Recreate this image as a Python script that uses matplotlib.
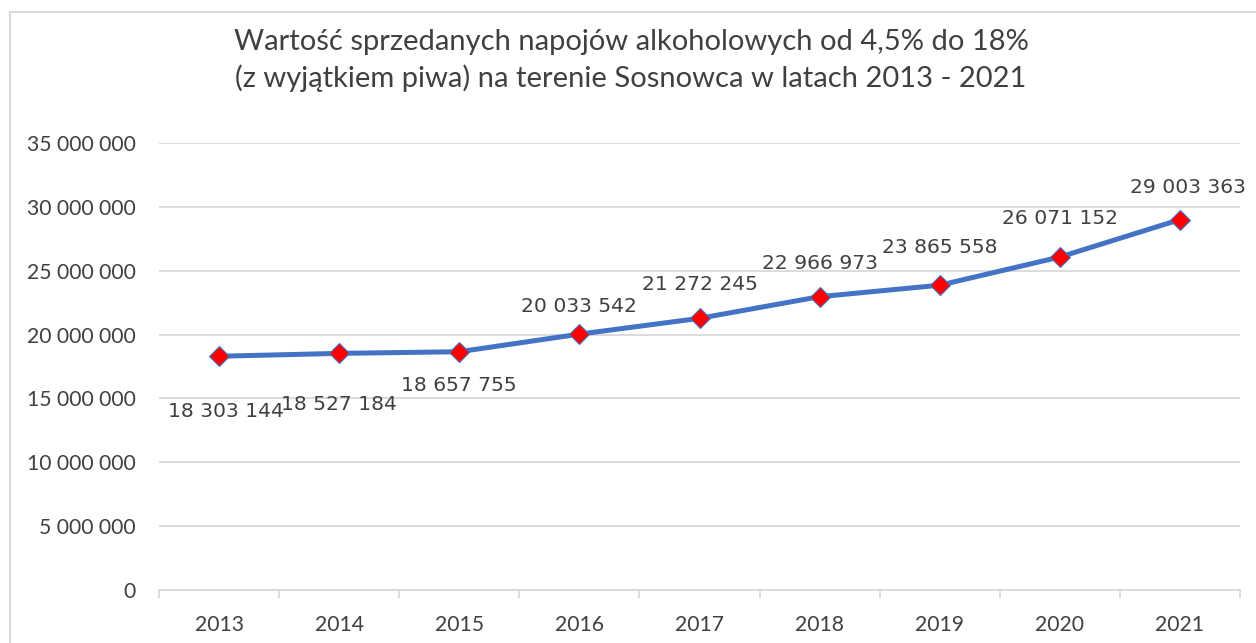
import matplotlib
matplotlib.use("Agg")
import matplotlib.pyplot as plt
from matplotlib.ticker import FuncFormatter
from matplotlib.patches import Rectangle

plt.rcParams['font.family'] = ['Lato', 'DejaVu Sans']

lata = ['2013', '2014', '2015', '2016', '2017', '2018', '2019', '2020', '2021']
wartosci = [18303144, 18527184, 18657755, 20033542, 21272245,
            22966973, 23865558, 26071152, 29003363]
# przesuniecia etykiet (w punktach), jak w Excelu
przes = [(5, -40), (0, -37), (0, -24), (0, 20), (0, 24),
         (0, 24), (0, 27), (0, 28), (6, 23)]

fig = plt.figure(figsize=(12.56, 6.43), dpi=100)
ax = fig.add_axes([159/1256, 1 - 590/643, (1240-159)/1256, (590-143)/643])

x = range(len(lata))
ax.plot(x, wartosci, color='#4472C4', lw=3.6, marker='D', ms=10,
        mfc='#FF0000', mec='#4472C4', mew=0.8, zorder=3)

for i, v in enumerate(wartosci):
    s = f"{v:,}".replace(",", " ")
    ax.annotate(s, (i, v), xytext=przes[i], textcoords='offset points',
                ha='center', va='center', fontsize=14.6, color='#404040',
                family=['DejaVu Sans'], annotation_clip=False)

ax.set_xlim(-0.5, len(lata) - 0.5)
ax.set_ylim(0, 35000000)
ax.set_yticks(range(0, 35000001, 5000000))
ax.yaxis.set_major_formatter(FuncFormatter(lambda v, p: f"{int(v):,}".replace(",", " ")))
ax.set_xticks(list(x))
ax.set_xticklabels(lata)
ax.set_xticks([i - 0.5 for i in range(len(lata) + 1)], minor=True)

ax.grid(axis='y', color='#D9D9D9', lw=1.3)
ax.set_axisbelow(True)
for sp in ['top', 'right', 'left']:
    ax.spines[sp].set_visible(False)
ax.spines['bottom'].set_color('#D9D9D9')
ax.spines['bottom'].set_linewidth(1.3)
ax.tick_params(axis='y', length=0, pad=17, labelsize=15.2, labelcolor='#404040')
ax.tick_params(axis='x', which='major', length=0, pad=18, labelsize=15.2, labelcolor='#404040')
ax.tick_params(axis='x', which='minor', length=6, color='#D9D9D9', width=1.3)

fig.text(631/1256, 1 - 42/643, "Wartość sprzedanych napojów alkoholowych od 4,5% do 18%",
         ha='center', va='center', fontsize=21, color='#404040')
fig.text(631/1256, 1 - 78/643, "(z wyjątkiem piwa) na terenie Sosnowca w latach 2013 - 2021",
         ha='center', va='center', fontsize=21, color='#404040')

# ramka wykresu
fig.patches.append(Rectangle((10/1256, -0.1), 1.2, 1 - 12/643 + 0.1,
                             transform=fig.transFigure, fill=False,
                             edgecolor='#D9D9D9', lw=1.5))

fig.savefig('out.png', dpi=100)
